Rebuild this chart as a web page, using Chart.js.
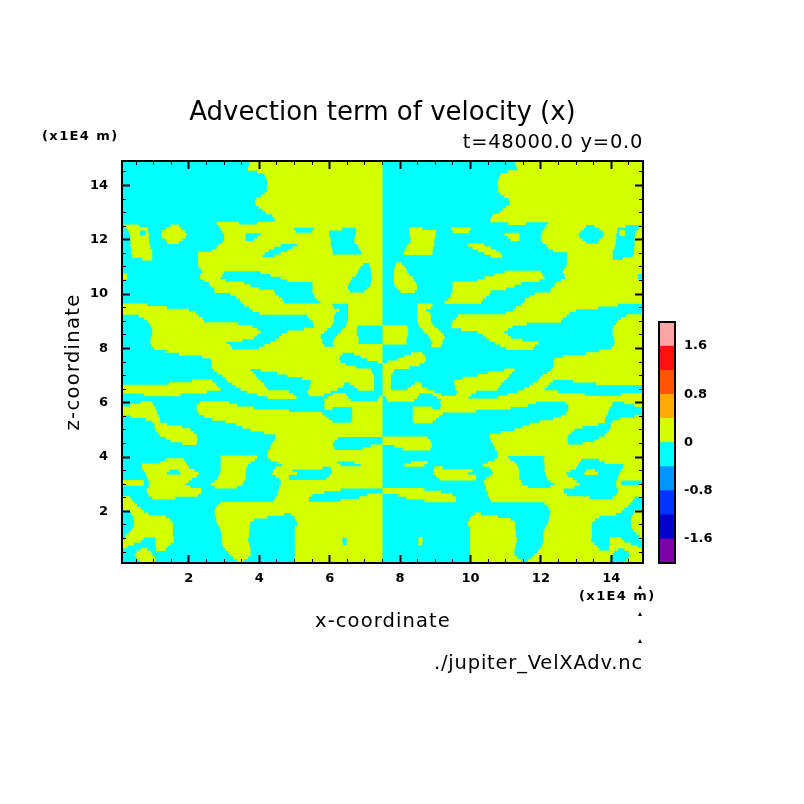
<!DOCTYPE html>
<html>
<head>
<meta charset="utf-8">
<title>Advection term of velocity (x)</title>
<script src="https://cdn.jsdelivr.net/npm/chart.js@4/dist/chart.umd.min.js"></script>
<style>
  html, body { margin: 0; padding: 0; background: #fff; }
  canvas { position: absolute; left: 0; top: 0; }
</style>
</head>
<body>
<canvas id="field" width="804" height="804"></canvas>
<canvas id="colorbar" width="804" height="804"></canvas>
<script>
const xMajorTicks = [2, 4, 6, 8, 10, 12, 14];
const zMajorTicks = [2, 4, 6, 8, 10, 12, 14];
const minorTicks = [0.5, 1, 1.5, 2.5, 3, 3.5, 4.5, 5, 5.5, 6.5, 7, 7.5, 8.5, 9, 9.5, 10.5, 11, 11.5, 12.5, 13, 13.5, 14.5];
const colorTicks = [-1.6, -0.8, 0, 0.8, 1.6];
const colorEdges = [-2, -1.6, -1.2, -0.8, -0.4, 0, 0.4, 0.8, 1.2, 1.6, 2];
const colorFills = ['#7f00a8', '#0000cc', '#0033ff', '#0095ff', '#00ffff', '#d4ff00', '#ffaa00', '#ff5500', '#ff1010', '#ffa5a8'];

// z of each row of the field, top of the plot first
const zRows = [14.8, 14.6, 14.4, 14.2, 14.0, 13.8, 13.6, 13.4, 13.2, 13.0, 12.8, 12.6, 12.4, 12.2, 12.0, 11.8, 11.6, 11.4, 11.2, 11.0, 10.8, 10.6, 10.4, 10.2, 10.0, 9.8, 9.6, 9.4, 9.2, 9.0, 8.8, 8.6, 8.4, 8.2, 8.0, 7.8, 7.6, 7.4, 7.2, 7.0, 6.8, 6.6, 6.4, 6.2, 6.0, 5.8, 5.6, 5.4, 5.2, 5.0, 4.8, 4.6, 4.4, 4.2, 4.0, 3.8, 3.6, 3.4, 3.2, 3.0, 2.8, 2.6, 2.4, 2.2, 2.0, 1.8, 1.6, 1.4, 1.2, 1.0, 0.8, 0.6, 0.4, 0.2];

// x start,end pairs where the value is positive, x < 7.5
const yellowLeft = [
  [3.73,7.5], [3.68,7.5], [4.15,7.5], [4.21,7.5], [4.23,7.5], [4.23,7.5], [4.04,7.5], [3.88,7.5], [3.99,7.5], [4.18,7.5], [4.42,7.5],
  [2.79,3.42, 3.94,7.5],
  [0.23,0.83, 1.34,1.78, 2.90,4.99, 5.55,6.36, 6.74,7.5],
  [0.32,0.61, 0.77,0.86, 1.21,1.93, 3.0,3.61, 4.04,5.98, 6.74,7.5],
  [0.34,0.86, 1.34,1.81, 3.0,3.61, 3.85,6.03, 6.69,7.5],
  [0.34,0.89, 2.85,4.61, 5.08,6.03, 6.79,7.5],
  [0.36,0.96, 2.66,4.27, 4.80,6.08, 6.88,7.5],
  [0.39,0.96, 2.26,4.10, 4.42,7.5],
  [2.26,7.5],
  [2.28,6.88, 7.15,7.5],
  [2.38,3.0, 4.04,6.79, 7.17,7.5],
  [0.1,0.25, 2.31,2.90, 4.61,6.64, 7.18,7.5],
  [2.57,3.56, 5.51,6.55, 7.17,7.5],
  [2.71,3.99, 5.51,6.52, 7.07,7.5],
  [3.18,4.46, 5.55,7.5],
  [3.45,4.65, 5.65,7.5],
  [0.1,0.82, 3.56,6.08, 6.52,7.5],
  [0.1,2.0, 3.80,6.27, 6.52,7.5],
  [0.58,2.28, 5.36,6.12, 6.52,7.5],
  [0.82,2.43, 5.51,6.12, 6.5,7.5],
  [0.93,3.80, 5.55,6.03, 6.45,6.79],
  [0.96,4.04, 4.80,5.84, 6.31,6.77],
  [0.93,3.85, 4.56,5.74, 6.17,6.81],
  [0.91,3.07, 4.32,5.79, 6.08,6.81],
  [1.0,3.23, 3.99,7.5],
  [1.72,6.36, 6.69,7.5],
  [2.62,6.27, 7.07,7.5],
  [2.64,6.45],
  [2.71,3.75, 4.04,7.17],
  [2.95,3.90, 4.80,7.26],
  [2.09,2.66, 3.09,4.04, 5.46,7.26],
  [0.1,2.81, 3.33,4.18, 5.43,6.38, 6.69,7.26],
  [0.1,2.52, 3.66,4.84, 5.36,6.03],
  [4.23,5.06, 5.95,6.52, 7.40,7.5],
  [0.63,0.96, 2.31,3.14, 5.86,7.5],
  [0.1,1.05, 2.22,3.85, 5.86,6.08, 6.64,7.5],
  [0.1,1.10, 2.28,5.79, 6.64,7.5],
  [0.77,1.18, 2.66,5.98, 6.64,7.5],
  [1.02,1.38, 3.33,7.5],
  [1.05,2.05, 3.75,7.5],
  [1.19,2.22, 4.46,7.5],
  [1.48,2.24, 4.42,6.14],
  [4.32,6.10, 7.17,7.5],
  [4.23,7.5],
  [2.90,3.94, 4.23,7.5],
  [1.19,1.91, 2.90,3.75, 4.51,6.22, 6.69,7.5],
  [0.67,2.0, 2.90,3.64, 4.46,5.79, 6.03,7.5],
  [0.77,1.38, 1.76,2.28, 2.88,3.61, 4.37,5.08, 6.05,7.5],
  [0.82,2.09, 2.81,3.61, 4.56,4.84, 5.89,7.5],
  [0.1,0.72, 0.86,1.91, 2.62,3.52, 4.61,7.5],
  [0.80,2.35, 4.56,6.31],
  [0.86,2.26, 4.51,5.51, 7.07,7.5],
  [0.1,0.39, 4.42,5.41, 6.31,7.5],
  [0.1,0.53, 2.81,7.5],
  [0.34,0.72, 2.73,7.5],
  [0.42,1.34, 2.76,4.23, 4.99,7.5],
  [0.44,1.53, 2.79,3.75, 5.08,7.5],
  [0.42,1.55, 2.88,3.73, 5.01,7.5],
  [0.29,1.55, 2.93,3.71, 5.01,7.5],
  [0.20,0.72, 1.05,1.57, 2.93,3.68, 5.01,6.36, 6.48,7.5],
  [0.1,0.44, 1.05,1.48, 2.95,3.71, 5.01,6.38, 6.48,7.5],
  [0.63,0.82, 1.07,1.34, 3.04,3.75, 5.01,7.5],
  [0.48,0.96, 3.18,3.75, 5.01,7.5],
  [0.58,1.05, 3.37,3.56, 5.01,7.5]
];

// same rows, x > 7.5
const yellowRight = [
  [11.27,14.9], [11.32,14.9], [10.85,14.9], [10.79,14.9], [10.77,14.9], [10.77,14.9], [10.96,14.9], [11.12,14.9], [11.01,14.9], [10.82,14.9], [10.58,14.9],
  [11.06,11.58, 12.21,14.9],
  [8.26,8.64, 9.45,10.01, 12.10,13.22, 13.66,14.17, 14.77,14.9],
  [8.26,9.02, 10.96,11.39, 12.0,13.07, 13.79,14.14, 14.23,14.39, 14.68,14.9],
  [8.31,8.97, 11.15,11.39, 12.0,13.19, 13.66,14.14, 14.66,14.9],
  [8.21,8.97, 9.92,10.39, 12.15,14.11, 14.66,14.9],
  [8.12,8.92, 10.2,10.73, 12.34,14.04, 14.64,14.9],
  [10.58,10.9, 12.74,14.04, 14.61,14.9],
  [12.74,14.9],
  [7.85,8.12, 12.72,14.9],
  [7.83,8.21, 10.96,12.0, 12.62,14.9],
  [7.82,8.36, 10.39,12.1, 12.69,14.75],
  [7.83,8.45, 9.49,11.44, 12.43,14.9],
  [7.93,8.48, 9.49,11.01, 12.29,14.9],
  [9.45,10.54, 11.82,14.9],
  [9.35,10.35, 11.55,14.9],
  [8.48,8.92, 11.44,14.18],
  [8.48,8.73, 11.2,13.0],
  [8.48,8.88, 9.64,12.72, 14.42,14.9],
  [8.5,8.88, 9.49,12.57, 14.18,14.9],
  [7.5,8.21, 8.55,8.97, 9.45,11.2, 14.07,14.9],
  [7.5,8.23, 8.69,9.16, 10.2,10.96, 14.04,14.9],
  [7.5,8.19, 8.83,9.26, 10.44,11.15, 14.07,14.9],
  [7.5,8.19, 8.92,9.21, 10.68,11.93, 14.09,14.9],
  [11.01,11.77, 14.0,14.9],
  [8.31,8.64, 13.28,14.9],
  [7.93,8.73, 12.38,14.9],
  [7.5,8.55, 12.36,14.9],
  [7.5,7.83, 10.96,11.25, 12.29,14.9],
  [7.5,7.74, 10.2,11.1, 12.05,14.9],
  [7.5,7.74, 9.54,10.96, 11.91,12.34, 12.91,14.9],
  [7.5,7.74, 8.31,8.62, 9.57,10.82, 11.67,12.19],
  [7.5,8.97, 9.64,10.16, 11.34,12.48],
  [7.6,8.48, 9.05,9.94, 10.77,14.9],
  [9.14,11.86, 12.69,14.04, 14.37,14.9],
  [8.36,8.92, 9.14,11.15, 12.78,13.95],
  [8.36,9.21, 12.72,13.9],
  [8.36,9.02, 12.34,13.82, 14.23,14.9],
  [11.67,13.62, 13.98,14.9],
  [11.25,12.95, 13.95,14.9],
  [10.54,12.78, 13.81,14.9],
  [7.5,8.86, 10.58,12.76, 13.52,14.9],
  [7.83,8.9, 10.68,14.9],
  [10.77,14.9],
  [10.77,11.06, 12.1,14.9],
  [8.31,8.78, 10.49,11.25, 12.1,13.09, 13.81,14.9],
  [8.97,9.21, 10.54,11.36, 12.1,13.0, 14.33,14.9],
  [8.95,9.92, 10.63,11.39, 12.12,12.72, 13.24,13.62, 14.23,14.9],
  [9.11,10.16, 10.44,11.39, 12.19,12.91, 14.18,14.9],
  [10.39,11.48, 12.38,13.09, 14.14,14.28],
  [7.5,8.69, 10.44,12.65, 14.2,14.9],
  [7.93,9.49, 10.49,12.74, 14.14,14.9],
  [8.69,9.59, 10.58,14.61],
  [12.19,14.47],
  [12.27,14.28, 14.66,14.9],
  [10.01,10.77, 12.24,13.66, 14.58,14.9],
  [9.92,11.25, 12.21,13.47, 14.56,14.9],
  [9.99,11.27, 12.12,13.45, 14.58,14.9],
  [9.99,11.29, 12.07,13.45, 14.71,14.9],
  [8.52,8.64, 9.99,11.32, 12.07,13.43, 13.95,14.28, 14.8,14.9],
  [8.52,8.62, 9.99,11.29, 12.05,13.52, 13.95,14.56],
  [9.99,11.25, 11.96,13.66, 13.93,14.18, 14.37,14.9],
  [9.99,11.25, 11.82,14.04, 14.52,14.9],
  [9.99,11.44, 11.63,13.95, 14.42,14.9]
];

// rows read between the ones above
const zRowsMid = [14.7, 14.5, 14.3, 14.1, 13.9, 13.7, 13.5, 13.3, 13.1, 12.9, 12.7, 12.5, 12.3, 12.1, 11.9, 11.7, 11.5, 11.3, 11.1, 10.9, 10.7, 10.5, 10.3, 10.1, 9.9, 9.7, 9.5, 9.3, 9.1, 8.9, 8.7, 8.5, 8.3, 8.1, 7.9, 7.7, 7.5, 7.3, 7.1, 6.9, 6.7, 6.5, 6.3, 6.1, 5.9, 5.7, 5.5, 5.3, 5.1, 4.9, 4.7, 4.5, 4.3, 4.1, 3.9, 3.7, 3.5, 3.3, 3.1, 2.9, 2.7, 2.5, 2.3, 2.1, 1.9, 1.7, 1.5, 1.3, 1.1, 0.9, 0.7, 0.5, 0.3];

const yellowLeftMid = [
  [3.70,7.5], [3.94,7.5], [4.19,7.5], [4.23,7.5], [4.21,7.5], [4.15,7.5], [3.92,7.5], [3.90,7.5], [4.09,7.5], [4.37,7.5], [4.44,7.5],
  [0.15,0.6, 1.48,1.72, 2.85,7.5],
  [0.29,0.61, 0.77,0.83, 1.24,1.88, 2.95,5.05, 5.5,5.98, 6.74,7.5],
  [0.34,0.86, 1.24,1.9, 3.0,3.61, 3.94,6.0, 6.72,7.5],
  [0.34,0.87, 1.38,1.72, 2.95,6.03, 6.71,7.5],
  [0.36,0.91, 2.79,4.42, 4.94,6.06, 6.83,7.5],
  [0.36,0.96, 2.26,4.15, 4.61,6.08, 6.9,7.5],
  [0.67,0.96, 2.26,7.5],
  [2.26,6.95, 7.12,7.5],
  [2.35,6.82, 7.17,7.5],
  [0.1,0.25, 2.33,2.95, 4.32,6.74, 7.18,7.5],
  [2.43,3.04, 4.8,6.6, 7.18,7.5],
  [2.62,3.75, 5.51,6.52, 7.15,7.5],
  [2.73,4.42, 5.51,6.58, 6.99,7.5],
  [3.33,4.56, 5.57,7.5],
  [3.49,4.70, 5.74,7.5],
  [0.1,1.38, 3.71,6.12, 6.52,7.5],
  [0.1,2.19, 4.0,6.17, 6.52,7.5],
  [0.72,2.38, 5.41,6.12, 6.52,7.5],
  [0.87,3.4, 5.53,6.08, 6.48,7.5],
  [0.96,3.94, 5.27,5.93, 6.36,6.77],
  [0.96,3.94, 4.65,5.76, 6.22,6.77],
  [0.91,3.52, 4.46,5.79, 6.12,6.83],
  [0.93,3.17, 4.15,5.84, 6.12,7.5],
  [1.34,7.5],
  [2.38,6.29, 6.88,7.5],
  [2.64,6.31, 7.36,7.5],
  [2.64,6.74],
  [2.81,3.83, 4.51,7.21],
  [3.04,3.96, 5.22,7.26],
  [1.43,2.76, 3.23,4.13, 5.46,6.41, 6.58,7.26],
  [0.1,2.9, 3.47,4.23, 5.43,6.22, 6.79,7.26],
  [0.72,1.76, 3.94,4.97, 5.41,5.84, 6.08,6.46],
  [5.84,6.6, 7.36,7.5],
  [0.34,0.99, 2.22,3.37, 5.84,7.5],
  [0.1,1.08, 2.24,4.84, 6.64,7.5],
  [0.34,1.15, 2.43,5.89, 6.64,7.5],
  [0.96,1.18, 3.04,6.08, 6.62,7.5],
  [1.02,1.81, 3.52,7.5],
  [1.12,2.14, 4.13,7.5],
  [1.34,2.24, 4.46,6.22],
  [1.81,2.22, 4.37,6.10],
  [4.30,6.14, 6.93,7.5],
  [4.23,7.5],
  [1.34,1.86, 2.92,3.87, 4.32,7.5],
  [0.67,1.95, 2.90,3.68, 4.65,6.31, 6.88,7.5],
  [0.72,1.46, 1.71,2.16, 2.90,3.62, 4.39,4.94, 6.05,7.5],
  [0.80,2.22, 2.85,3.61, 4.46,4.84, 5.98,7.5],
  [0.1,0.72, 0.86,1.99, 2.73,3.56, 4.61,7.5],
  [0.86,2.05, 2.73,3.37, 4.56,7.5],
  [0.82,2.35, 4.51,5.84],
  [0.1,0.34, 0.96,1.62, 4.46,5.41, 6.83,7.5],
  [0.1,0.46, 2.90,7.5],
  [0.1,0.63, 2.76,7.5],
  [0.37,0.86, 2.74,4.70, 4.89,7.5],
  [0.44,1.46, 2.78,3.85, 5.03,7.5],
  [0.44,1.55, 2.83,3.73, 5.08,7.5],
  [0.36,1.55, 2.90,3.72, 5.01,7.5],
  [0.20,1.55, 2.93,3.71, 5.01,7.5],
  [0.1,0.63, 1.05,1.57, 2.93,3.69, 5.01,6.36, 6.48,7.5],
  [0.1,0.25, 1.07,1.40, 2.98,3.73, 5.01,7.5],
  [0.51,0.93, 3.11,3.75, 5.01,7.5],
  [0.51,1.03, 3.26,3.68, 5.01,7.5]
];

const yellowRightMid = [
  [11.30,14.9], [11.06,14.9], [10.81,14.9], [10.77,14.9], [10.79,14.9], [10.85,14.9], [11.08,14.9], [11.10,14.9], [10.91,14.9], [10.63,14.9], [10.56,14.9],
  [12.15,13.28, 13.52,14.4, 14.85,14.9],
  [8.26,9.02, 9.5,9.95, 12.05,13.12, 13.76,14.17, 14.23,14.39, 14.71,14.9],
  [8.28,9.0, 11.06,11.39, 12.0,13.1, 13.76,14.14, 14.66,14.9],
  [8.29,8.97, 12.05,13.28, 13.62,14.13, 14.66,14.9],
  [8.17,8.94, 10.06,10.58, 12.21,14.09, 14.64,14.9],
  [8.1,8.92, 10.39,10.85, 12.74,14.04, 14.64,14.9],
  [12.74,14.04, 14.33,14.9],
  [7.88,8.05, 12.74,14.9],
  [7.83,8.18, 12.65,14.9],
  [7.82,8.26, 10.68,12.05, 12.67,14.75],
  [7.82,8.4, 10.2,11.96, 12.57,14.9],
  [7.85,8.48, 9.49,11.25, 12.38,14.9],
  [8.01,8.42, 9.49,10.58, 12.27,14.9],
  [9.43,10.44, 11.67,14.9],
  [9.26,10.3, 11.51,14.9],
  [8.48,8.88, 11.29,13.62],
  [8.48,8.83, 11.0,12.81],
  [8.48,8.88, 9.59,12.62, 14.28,14.9],
  [8.52,8.92, 9.47,11.6, 14.13,14.9],
  [7.5,8.23, 8.64,9.07, 9.73,11.06, 14.04,14.9],
  [7.5,8.23, 8.78,9.24, 10.35,11.06, 14.04,14.9],
  [7.5,8.17, 8.88,9.21, 10.54,11.48, 14.09,14.9],
  [8.88,9.16, 10.85,11.83, 14.07,14.9],
  [13.66,14.9],
  [8.12,8.71, 12.62,14.9],
  [7.64,8.69, 12.36,14.9],
  [7.5,8.26, 12.36,14.9],
  [7.5,7.79, 10.49,11.17, 12.19,14.9],
  [7.5,7.74, 9.78,11.04, 11.96,14.9],
  [7.5,7.74, 8.42,8.59, 9.54,10.87, 11.77,12.24, 13.57,14.9],
  [7.5,7.74, 8.21,8.78, 9.57,10.77, 11.53,12.1],
  [7.5,8.54, 8.92,9.16, 9.59,10.03, 11.06,13.24, 14.28,14.9],
  [7.64,8.4, 9.16,14.9],
  [9.16,11.63, 12.78,14.01, 14.66,14.9],
  [8.36,10.16, 12.76,13.92],
  [8.36,9.11, 12.57,13.85, 14.66,14.9],
  [8.38,8.92, 11.96,13.82, 14.04,14.9],
  [11.48,13.19, 13.98,14.9],
  [10.87,12.86, 13.88,14.9],
  [7.5,8.78, 10.54,12.76, 13.66,14.9],
  [7.5,8.9, 10.63,12.78, 13.19,14.9],
  [8.07,8.86, 10.7,14.9],
  [10.77,14.9],
  [10.68,11.13, 12.08,13.14, 13.66,14.9],
  [8.12,8.69, 10.35,11.32, 12.1,13.05, 14.33,14.9],
  [8.95,10.06, 10.61,11.38, 12.1,12.84, 13.29,13.54, 14.28,14.9],
  [9.02,10.16, 10.54,11.39, 12.15,12.78, 14.2,14.9],
  [10.39,11.44, 12.27,13.01, 14.14,14.28],
  [10.44,11.63, 12.27,12.95, 14.14,14.9],
  [7.5,9.16, 10.49,12.65, 14.18,14.9],
  [8.17,9.59, 10.54,13.38, 14.04,14.66],
  [12.1,14.54],
  [12.24,14.37],
  [10.11,10.3, 12.26,14.14, 14.63,14.9],
  [9.97,11.15, 12.22,13.54, 14.56,14.9],
  [9.92,11.27, 12.17,13.45, 14.56,14.9],
  [9.99,11.28, 12.1,13.45, 14.64,14.9],
  [9.99,11.29, 12.07,13.45, 14.8,14.9],
  [8.52,8.64, 9.99,11.31, 12.07,13.43, 13.95,14.37],
  [9.99,11.27, 12.02,13.6, 13.93,14.75],
  [9.99,11.25, 11.89,14.07, 14.49,14.9],
  [9.99,11.32, 11.74,13.97, 14.49,14.9]
];

const domainMin = 0.1;
const domainMax = 14.9;

// each row becomes short horizontal pieces of one line, NaN breaks the line
function rowPoints(rows, runsFor) {
  const pts = [];
  rows.forEach((z, i) => {
    const runs = runsFor(i);
    for (let k = 0; k < runs.length; k += 2) {
      pts.push({x: runs[k], y: z}, {x: runs[k + 1], y: z}, {x: runs[k + 1], y: NaN});
    }
  });
  return pts;
}

function rowDataset(label, color, width, points) {
  return {
    label: label,
    data: points,
    showLine: true,
    spanGaps: false,
    borderColor: color,
    borderWidth: width,
    borderCapStyle: 'butt',
    pointRadius: 0,
    tension: 0
  };
}

function axis(position, values, length, width, labelPad) {
  const horizontal = position === 'top' || position === 'bottom';
  const labelled = labelPad !== undefined;
  return {
    type: 'linear',
    position: position,
    weight: labelled ? 1 : 0,
    min: domainMin,
    max: domainMax,
    afterBuildTicks: s => { s.ticks = values.map(v => ({value: v})); },
    afterFit: s => {
      if (horizontal) s.height = labelled ? 30 : 0;
      else s.width = labelled ? 40 : 0;
    },
    border: {display: false},
    grid: {drawOnChartArea: false, drawTicks: true, tickLength: -length, tickWidth: width, tickColor: '#000', z: 1},
    ticks: {
      display: labelled,
      autoSkip: false,
      maxRotation: 0,
      padding: labelPad || 0,
      color: '#000',
      font: {family: 'DejaVu Sans', size: 13, weight: 'bold'},
      callback: v => String(v)
    }
  };
}

const framePlugin = {
  id: 'frame',
  afterDraw(chart) {
    const a = chart.chartArea, c = chart.ctx;
    c.save();
    c.strokeStyle = '#000';
    c.lineWidth = 2;
    c.strokeRect(a.left, a.top, a.right - a.left, a.bottom - a.top);
    c.restore();
  }
};

const notes = [
  {text: 't=48000.0 y=0.0', x: 643, y: 143, size: 19.5, align: 'right', gap: 0.7},
  {text: '(x1E4 m)', x: 42, y: 137, size: 13, align: 'left', gap: 1.4, weight: 'bold'},
  {text: '(x1E4 m)', x: 579, y: 597, size: 13, align: 'left', gap: 1.4, weight: 'bold'},
  {text: 'x-coordinate', x: 315, y: 622, size: 19.5, align: 'left', gap: 1.1},
  {text: 'z-coordinate', x: 74, y: 362, size: 19.5, align: 'center', gap: 1.3, rotate: -Math.PI / 2},
  {text: './jupiter_VelXAdv.nc', x: 643, y: 664, size: 19.5, align: 'right', gap: 0.8},
  {text: '▴', x: 640, y: 587, size: 8, align: 'center', gap: 0},
  {text: '▴', x: 640, y: 614, size: 8, align: 'center', gap: 0},
  {text: '▴', x: 640, y: 641, size: 8, align: 'center', gap: 0}
];

const notesPlugin = {
  id: 'notes',
  afterDraw(chart) {
    const c = chart.ctx;
    notes.forEach(n => {
      c.save();
      c.translate(n.x, n.y);
      if (n.rotate) c.rotate(n.rotate);
      c.fillStyle = '#000';
      c.font = (n.weight || 'normal') + ' ' + n.size + 'px "DejaVu Sans"';
      c.letterSpacing = n.gap + 'px';
      c.textAlign = n.align;
      c.textBaseline = 'middle';
      c.fillText(n.text, 0, 0);
      c.restore();
    });
  }
};

new Chart(document.getElementById('field'), {
  type: 'scatter',
  data: {
    datasets: [
      rowDataset('positive', '#d4ff00', 3.2, rowPoints(zRows, i => yellowLeft[i].concat(yellowRight[i]))
        .concat(rowPoints(zRowsMid, i => yellowLeftMid[i].concat(yellowRightMid[i])))),
      rowDataset('negative', '#00ffff', 6, rowPoints(zRows, () => [domainMin, domainMax]))
    ]
  },
  plugins: [framePlugin, notesPlugin],
  options: {
    responsive: false,
    animation: false,
    events: [],
    layout: {autoPadding: false, padding: {left: 82, right: 161, top: 98, bottom: 211}},
    plugins: {
      legend: {display: false},
      tooltip: {enabled: false},
      title: {
        display: true,
        text: 'Advection term of velocity (x)',
        fullSize: false,
        color: '#000',
        font: {family: 'DejaVu Sans', size: 26, weight: 'normal', lineHeight: 1.2},
        padding: {top: 0, bottom: 31.8}
      }
    },
    scales: {
      x: axis('bottom', xMajorTicks, 8, 2, 16),
      xMinor: axis('bottom', minorTicks, 4, 1),
      xTop: axis('top', xMajorTicks, 8, 2),
      xTopMinor: axis('top', minorTicks, 4, 1),
      y: axis('left', zMajorTicks, 8, 2, 22),
      yMinor: axis('left', minorTicks, 4, 1),
      yRight: axis('right', zMajorTicks, 8, 2),
      yRightMinor: axis('right', minorTicks, 4, 1)
    }
  }
});

new Chart(document.getElementById('colorbar'), {
  type: 'bar',
  data: {
    labels: ['value'],
    datasets: colorFills.map((fill, i) => ({
      label: String(colorEdges[i]),
      data: [[colorEdges[i], colorEdges[i + 1]]],
      backgroundColor: fill,
      barPercentage: 1,
      categoryPercentage: 1,
      grouped: false
    }))
  },
  plugins: [framePlugin],
  options: {
    responsive: false,
    animation: false,
    events: [],
    layout: {autoPadding: false, padding: {left: 659, right: 79, top: 322, bottom: 241}},
    plugins: {legend: {display: false}, tooltip: {enabled: false}},
    scales: {
      x: {display: false},
      y: {
        position: 'right',
        min: -2,
        max: 2,
        afterBuildTicks: s => { s.ticks = colorTicks.map(v => ({value: v})); },
        afterFit: s => { s.width = 50; },
        border: {display: false},
        grid: {display: false, drawTicks: false},
        ticks: {
          autoSkip: false,
          padding: 9,
          color: '#000',
          font: {family: 'DejaVu Sans', size: 13, weight: 'bold'},
          callback: v => String(v)
        }
      }
    }
  }
});
</script>
</body>
</html>
